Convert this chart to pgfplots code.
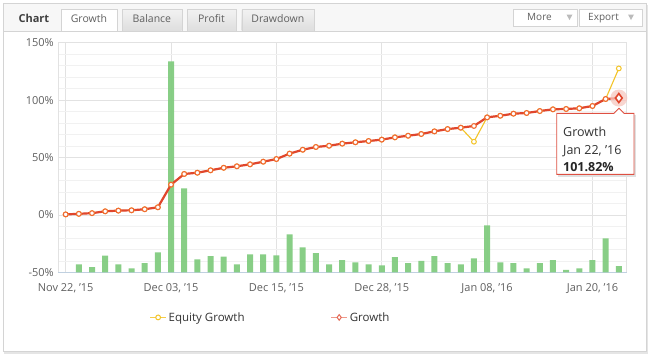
\documentclass[border=0pt]{standalone}
\usepackage{pgfplots}
\pgfplotsset{compat=1.18}
\usepackage{pgfplotstable}
\usepackage{fontspec}
\setmainfont{Open Sans}
\definecolor{gridmaj}{HTML}{E2E2E2}
\definecolor{gridmin}{HTML}{F1F1F1}
\definecolor{xaxisc}{HTML}{C0D0E0}
\definecolor{framec}{HTML}{D4D4D4}
\definecolor{headc}{HTML}{F7F7F7}
\definecolor{tabtop}{HTML}{F2F2F2}
\definecolor{tabbot}{HTML}{DEDEDE}
\definecolor{labc}{HTML}{606060}
\definecolor{barc}{RGB}{130,204,128}
\definecolor{growc}{RGB}{224,70,45}
\definecolor{growm}{RGB}{240,105,50}
\definecolor{eqc}{RGB}{243,196,40}
\definecolor{tipb}{RGB}{222,80,66}
\definecolor{tric}{HTML}{BBBBBB}

\pgfplotstableread{
idx growth
0 0.5
1 1.0
2 1.6
3 3.2
4 3.8
5 4.1
6 5.0
7 6.7
8 26.4
9 35.7
10 36.8
11 38.9
12 41.1
13 42.4
14 44.1
15 46.4
16 48.7
17 53.4
18 56.8
19 59.2
20 60.3
21 62.1
22 63.3
23 64.4
24 65.6
25 67.6
26 69.0
27 70.5
28 72.8
29 74.8
30 76.0
31 77.5
32 85.0
33 86.4
34 88.2
35 88.8
36 90.5
37 92.0
38 92.3
39 92.9
40 94.9
41 101.0
42 101.82
}\growthtable

\pgfplotstableread{
idx equity
0 0.5
1 1.0
2 1.6
3 3.2
4 3.8
5 4.1
6 5.0
7 6.7
8 26.4
9 35.7
10 36.8
11 38.9
12 41.1
13 42.4
14 44.1
15 46.4
16 48.7
17 53.4
18 56.8
19 59.2
20 60.3
21 62.1
22 63.3
23 64.4
24 65.6
25 67.6
26 69.0
27 70.5
28 72.8
29 74.8
30 76.0
31 63.8
32 85.0
33 86.4
34 88.2
35 88.8
36 90.5
37 92.0
38 92.3
39 92.9
40 94.9
41 101.0
42 127.6
}\equitytable

% bar heights above the -50% baseline
\pgfplotstableread{
idx h
1 7.1
2 4.5
3 14.6
4 7.1
5 3.6
6 8.0
7 17.5
8 183.8
9 73.2
10 11.4
11 14.1
12 13.7
13 7.1
14 15.8
15 15.8
16 14.9
17 33.2
18 21.9
19 16.7
20 7.1
21 10.6
22 8.8
23 7.1
24 6.2
25 13.2
26 8.0
27 10.0
28 14.1
29 8.0
30 7.1
31 12.3
32 41.0
33 8.8
34 8.0
35 3.6
36 8.0
37 10.6
38 2.1
39 3.6
40 10.6
41 29.7
42 5.4
}\bartable

\pgfplotsset{
  base/.style={at={(0,0)}, anchor=south west, scale only axis,
    width=568.4bp, height=229.7bp, xmin=-0.56, xmax=42.6},
}

\begin{document}
\begin{tikzpicture}
\begin{scope}[x=1bp,y=-1bp,shift={(-58.3bp,272.4bp)}]
\useasboundingbox (0,0) rectangle (649,355);
\fill[white] (0,0) rectangle (649,355);
\fill[black!10] (4.5,5) rectangle (647.5,354);
\fill[white] (3.5,3.5) rectangle (646,351.5);
\fill[headc] (3.5,3.5) rectangle (646,30.7);
\draw[framec] (3.5,3.5) rectangle (646,351.5);
\draw[framec] (3.5,30.7) -- (646,30.7);
\node[anchor=base west, font=\fontsize{11bp}{13bp}\selectfont\bfseries, text=black!75] at (15,22.7) {Chart};
\foreach \a/\b/\t in {122/181.7/Balance,187/236/Profit,241.7/314/Drawdown}{
  \shade[top color=tabtop, bottom color=tabbot] (\a,9.3) rectangle (\b,30.7);
  \draw[framec] (\a,30.7) -- (\a,9.3) -- (\b,9.3) -- (\b,30.7);
  \node[anchor=base, font=\fontsize{10.5bp}{12bp}\selectfont, text=labc] at ({(\a+\b)/2},22.5) {\t};
}
\fill[white] (61,9.3) rectangle (116.7,31.2);
\draw[framec] (61,30.7) -- (61,9.3) -- (116.7,9.3) -- (116.7,30.7);
\node[anchor=base, font=\fontsize{10.5bp}{12bp}\selectfont, text=labc] at (88.9,22.5) {Growth};
\draw[framec, fill=white] (513,9.3) rectangle (577,26);
\node[anchor=base west, inner sep=0, font=\fontsize{10bp}{12bp}\selectfont, text=labc] at (527,20.7) {More};
\fill[tric] (566.5,14.5) -- (572.5,14.5) -- (569.5,20) -- cycle;
\draw[framec, fill=white] (579,9.3) rectangle (641.7,26);
\node[anchor=base west, inner sep=0, font=\fontsize{10bp}{12bp}\selectfont, text=labc] at (588,20.7) {Export};
\fill[tric] (628,14.5) -- (634,14.5) -- (631,20) -- cycle;
\end{scope}

% grid axis
\begin{axis}[base, ymin=-50, ymax=150,
  ytick={-50,0,50,100,150},
  yticklabels={-50\%,0\%,50\%,100\%,150\%},
  minor ytick={-40,-30,-20,-10,10,20,30,40,60,70,80,90,110,120,130,140},
  xtick={0,8,16,24,32,40},
  xticklabels={{Nov 22, '15},{Dec 03, '15},{Dec 15, '15},{Dec 28, '15},{Jan 08, '16},{Jan 20, '16}},
  ymajorgrids, yminorgrids, xmajorgrids,
  major grid style={draw=gridmaj, line width=0.8bp},
  minor grid style={draw=gridmin, line width=0.8bp},
  major tick length=0pt, minor tick length=0pt,
  axis line style={draw=gridmaj, line width=0.8bp},
  ticklabel style={font=\fontsize{11bp}{13bp}\selectfont, text=labc},
  yticklabel style={xshift=-1bp},
  xticklabel style={yshift=-8bp},
  after end axis/.code={\draw[xaxisc, line width=0.9bp] (rel axis cs:0,0) -- (rel axis cs:1,0);},
]
\end{axis}

% bars (heights above the -50% baseline)
\begin{axis}[base, hide axis, ymin=0, ymax=200]
\addplot[ybar, bar width=6bp, fill=barc, draw=none, fill opacity=0.95] table[x=idx, y=h] {\bartable};
\end{axis}

% lines
\begin{axis}[base, hide axis, ymin=-50, ymax=150,
  legend columns=2,
  legend style={draw=none, fill=none, at={(0.155,-0.196)}, anchor=west,
    font=\fontsize{11.5bp}{13bp}\selectfont, text=black!80,
    /tikz/every even column/.append style={column sep=84bp}},
  legend image code/.code={
    \draw[#1, mark=none] (0bp,0bp) -- (16bp,0bp);
    \draw[#1, only marks] plot coordinates {(8bp,0bp)};
  },
]
\addlegendimage{color=eqc!85, line width=1.1bp, mark=*, mark size=2.4bp, mark options={fill=white, draw=eqc, line width=1bp}}
\addlegendentry{Equity Growth}
\addlegendimage{color=growc!55, line width=1.3bp, mark=diamond*, mark size=2.8bp, mark options={fill=white, draw=growc!80, line width=1bp}}
\addlegendentry{Growth}
\addplot[forget plot, color=eqc, line width=1.1bp, mark=*, mark size=2.4bp,
  mark options={fill=white, draw=eqc, line width=1bp}] table[x=idx, y=equity] {\equitytable};
\addplot[forget plot, color=growc, line width=2.2bp, mark=*, mark size=2.4bp,
  mark options={fill=white, draw=growm, line width=1.1bp}] table[x=idx, y=growth] {\growthtable};
\addplot[forget plot, only marks, mark=*, mark size=8.5bp, color=growc!30, fill opacity=0.75, draw opacity=0] coordinates {(42,101.82)};
\addplot[forget plot, only marks, mark=diamond*, mark size=4.5bp,
  mark options={fill=white, draw=growc, line width=1.6bp}] coordinates {(42,101.82)};
\end{axis}

\begin{scope}[x=1bp,y=-1bp,shift={(-58.3bp,272.4bp)}]
\fill[black!12] (558.2,115.3) rectangle (636,176.5);
\draw[tipb, fill=white, line width=0.9bp] (556.7,113.3) -- (614,113.3) -- (619,108.3) -- (624,113.3) -- (634,113.3) -- (634,174.3) -- (556.7,174.3) -- cycle;
\node[anchor=base west, inner sep=0, font=\fontsize{12.5bp}{14bp}\selectfont, text=black!80] at (563,136.5) {Growth};
\node[anchor=base west, inner sep=0, font=\fontsize{12.5bp}{14bp}\selectfont, text=black!80] at (563,154) {Jan 22, '16};
\node[anchor=base west, inner sep=0, font=\fontsize{12.5bp}{14bp}\selectfont\bfseries, text=black!85] at (563,171.7) {101.82\%};
\end{scope}
\end{tikzpicture}
\end{document}
